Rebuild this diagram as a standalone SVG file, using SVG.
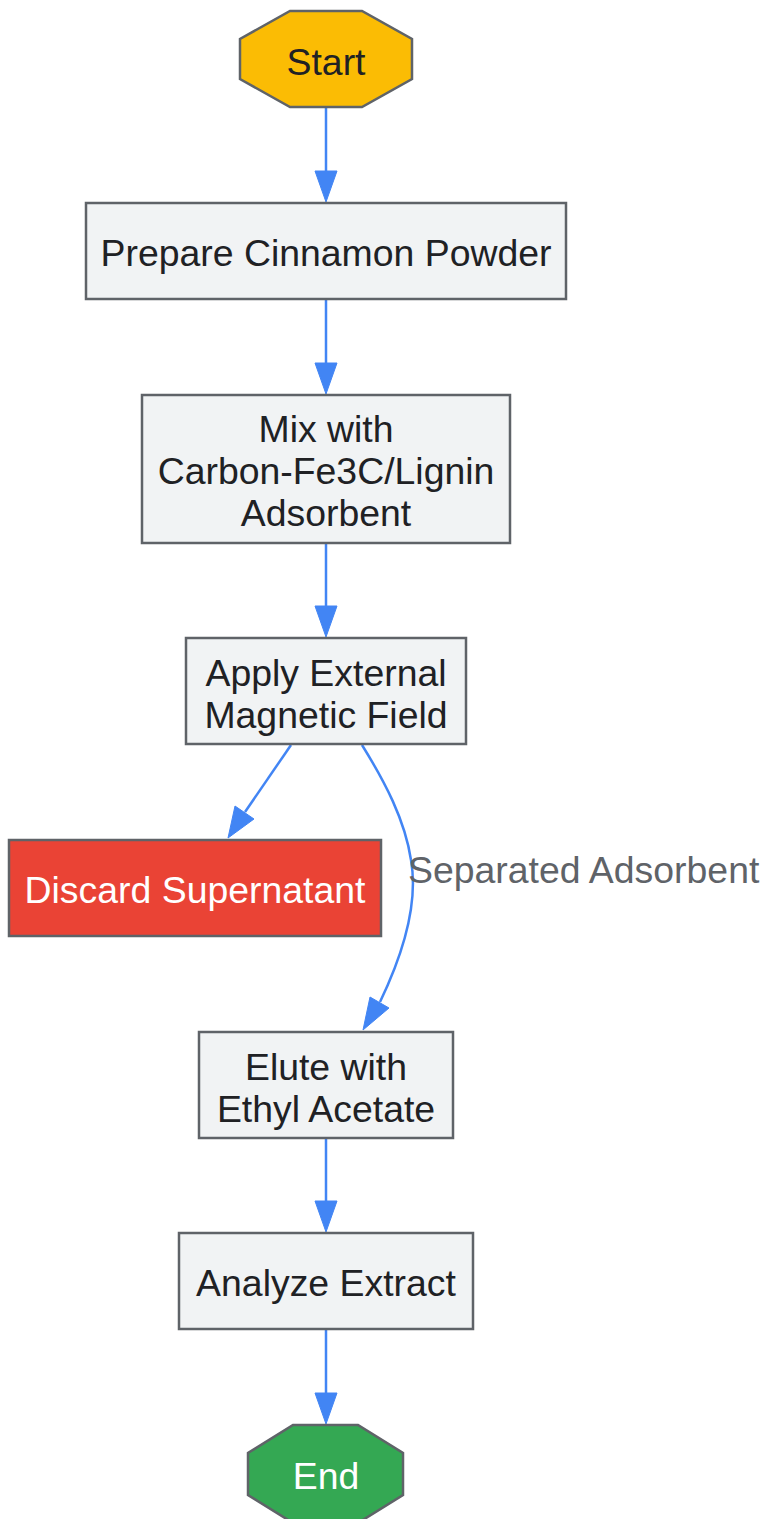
<svg xmlns="http://www.w3.org/2000/svg" width="763" height="1519" viewBox="0 0 763 1519">
<style>
.box{fill:#f1f3f4;stroke:#5f6368;stroke-width:2.5}
.t{font-family:"Liberation Sans",Arial,sans-serif;font-size:37.4px;fill:#202124;text-anchor:middle}
.w{fill:#ffffff}
.e{fill:none;stroke:#4285f4;stroke-width:2.5}
.ah{fill:#4285f4;stroke:#4285f4;stroke-width:1}
.lbl{font-family:"Liberation Sans",Arial,sans-serif;font-size:37.4px;fill:#5f6368}
</style>
<rect width="763" height="1519" fill="#ffffff"/>
<g id="connectors">
<line class="e" x1="326" y1="108" x2="326" y2="172"/>
<polygon class="ah" points="326,202 315,171 337,171"/>
<line class="e" x1="326" y1="300" x2="326" y2="364"/>
<polygon class="ah" points="326,394 315,363 337,363"/>
<line class="e" x1="326" y1="544" x2="326" y2="607"/>
<polygon class="ah" points="326,637 315,606 337,606"/>
<line class="e" x1="291" y1="745" x2="245" y2="812"/>
<polygon class="ah" points="228,838 235,806 254,819"/>
<path class="e" d="M362,745 C385,782 405,820 411,860 C418,900 405,950 380,1002"/>
<polygon class="ah" points="363,1030 370,997 389,1008"/>
<text class="lbl" x="408" y="883">Separated Adsorbent</text>
<line class="e" x1="326" y1="1139" x2="326" y2="1202"/>
<polygon class="ah" points="326,1232 315,1201 337,1201"/>
<line class="e" x1="326" y1="1330" x2="326" y2="1394"/>
<polygon class="ah" points="326,1424 315,1393 337,1393"/>
</g>
<g id="start">
<polygon points="290,11 362,11 412,39 412,79 362,107 290,107 240,79 240,39" fill="#fbbc04" stroke="#5f6368" stroke-width="2.5"/>
<text class="t" x="326" y="75">Start</text>
</g>
<g id="prepare">
<rect class="box" x="86" y="203" width="480" height="96"/>
<text class="t" x="326" y="266">Prepare Cinnamon Powder</text>
</g>
<g id="mix">
<rect class="box" x="142" y="395" width="368" height="148"/>
<text class="t" x="326" y="442">Mix with</text>
<text class="t" x="326" y="484">Carbon-Fe3C/Lignin</text>
<text class="t" x="326" y="526">Adsorbent</text>
</g>
<g id="apply">
<rect class="box" x="186" y="638" width="280" height="106"/>
<text class="t" x="326" y="686">Apply External</text>
<text class="t" x="326" y="728">Magnetic Field</text>
</g>
<g id="discard">
<rect x="9" y="840" width="372" height="96" fill="#ea4335" stroke="#5f6368" stroke-width="2.5"/>
<text class="t w" x="195" y="903">Discard Supernatant</text>
</g>
<g id="elute">
<rect class="box" x="199" y="1032" width="254" height="106"/>
<text class="t" x="326" y="1080">Elute with</text>
<text class="t" x="326" y="1122">Ethyl Acetate</text>
</g>
<g id="analyze">
<rect class="box" x="179" y="1233" width="294" height="96"/>
<text class="t" x="326" y="1296">Analyze Extract</text>
</g>
<g id="end">
<polygon points="293,1425 358,1425 403,1453 403,1495 358,1523 293,1523 248,1495 248,1453" fill="#34a853" stroke="#5f6368" stroke-width="2.5"/>
<text class="t w" x="326" y="1489">End</text>
</g>
</svg>
